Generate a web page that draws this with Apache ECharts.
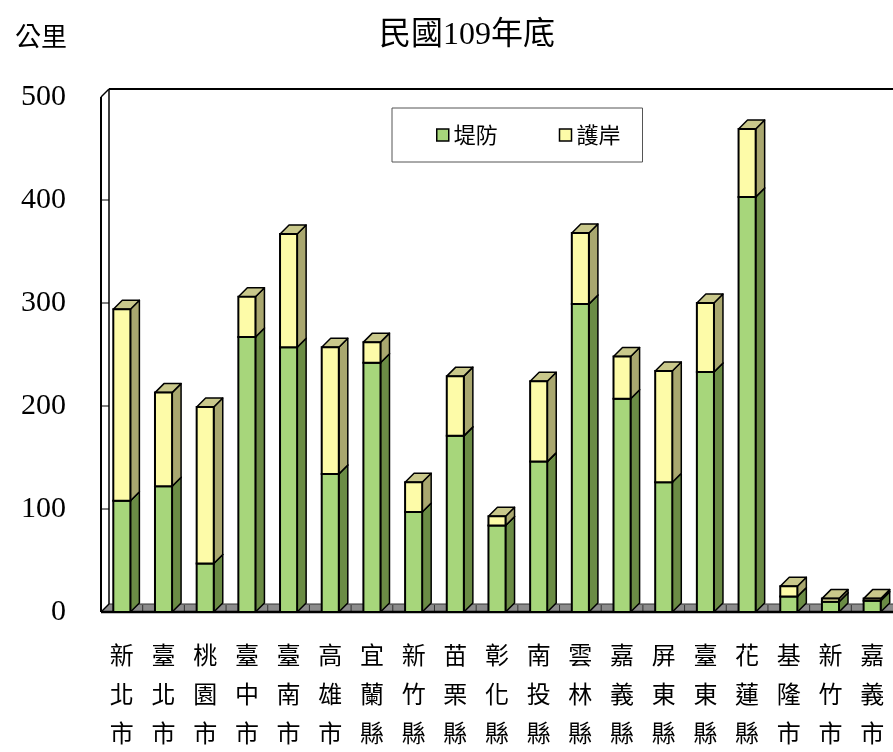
<!DOCTYPE html>
<html>
<head>
<meta charset="utf-8">
<script src="https://cdn.jsdelivr.net/npm/echarts@6/dist/echarts.min.js"></script>
<style>html,body{margin:0;padding:0;background:#fff;overflow:hidden}#c{width:893px;height:752px}</style>
</head>
<body>
<div id="c"></div>
<script>
// ---- data ----
const categories = ['新北市','臺北市','桃園市','臺中市','臺南市','高雄市','宜蘭縣','新竹縣','苗栗縣','彰化縣','南投縣','雲林縣','嘉義縣','屏東縣','臺東縣','花蓮縣','基隆市','新竹市','嘉義市'];
const dikes   = [108, 122, 47, 267, 257, 134, 242, 97, 171, 84, 146, 299, 207, 126, 233, 403, 15, 10, 11]; // 堤防
const revetments = [186, 91, 152, 39, 110, 123, 20, 29, 58, 9, 78, 69, 41, 108, 67, 66, 10, 3, 2]; // 護岸
const yTicks = [0, 100, 200, 300, 400, 500];
const seriesNames = ['堤防', '護岸'];

// ---- style ----
const DEPTH = 9;
const CJK = '"Noto Sans CJK TC", "Noto Sans CJK SC", sans-serif';
const SERIF = '"Liberation Serif", "Noto Sans CJK TC", serif';
const styles = {
  '堤防': {front: '#a7d67b', side: '#6b8c45', top: '#b9d98f'},
  '護岸': {front: '#fdfba8', side: '#a9a76f', top: '#c9c88b'}
};

function segData(base, vals) {
  return vals.map((v, i) => [i, base ? base[i] : 0, (base ? base[i] : 0) + v]);
}

function makeRender(st) {
  return function (params, api) {
    const cat = api.value(0), b = api.value(1), t = api.value(2);
    const p0 = api.coord([cat, b]);
    const p1 = api.coord([cat, t]);
    const bw = api.size([1, 0])[0] * 0.41;
    const x0 = p0[0] - bw / 2, x1 = p0[0] + bw / 2;
    const yb = p0[1], yt = p1[1];
    const d = DEPTH;
    return {
      type: 'group',
      children: [
        {type: 'polygon', shape: {points: [[x1, yb], [x1 + d, yb - d], [x1 + d, yt - d], [x1, yt]]},
         style: {fill: st.side, stroke: '#000', lineWidth: 1.5, lineJoin: 'round'}},
        {type: 'polygon', shape: {points: [[x0, yt], [x1, yt], [x1 + d, yt - d], [x0 + d, yt - d]]},
         style: {fill: st.top, stroke: '#000', lineWidth: 1.5, lineJoin: 'round'}},
        {type: 'rect', shape: {x: x0, y: yt, width: bw, height: yb - yt},
         style: {fill: st.front, stroke: '#000', lineWidth: 2}}
      ]
    };
  };
}

function renderFrame(params, api) {
  const cs = params.coordSys;
  const L = cs.x, R = cs.x + cs.width, T = cs.y, B = cs.y + cs.height;
  const d = DEPTH - 1;
  const band = cs.width / categories.length;
  const ch = [];
  // floor
  ch.push({type: 'polygon', shape: {points: [[L, B], [R, B], [R + d, B - d], [L + d, B - d]]},
           style: {fill: '#8c8c8c', stroke: '#333', lineWidth: 1}});
  for (let k = 1; k < categories.length; k++) {
    const x = L + k * band;
    ch.push({type: 'line', shape: {x1: x, y1: B - d + 1, x2: x, y2: B - 1}, style: {stroke: '#333', lineWidth: 1}});
  }
  ch.push({type: 'line', shape: {x1: L, y1: B, x2: R + 10, y2: B}, style: {stroke: '#000', lineWidth: 2.5}});
  // left wall
  ch.push({type: 'line', shape: {x1: L, y1: T, x2: L, y2: B}, style: {stroke: '#000', lineWidth: 2}});
  ch.push({type: 'line', shape: {x1: L + d, y1: T - d, x2: L + d, y2: B - d}, style: {stroke: '#000', lineWidth: 1.5}});
  ch.push({type: 'line', shape: {x1: L, y1: T, x2: L + d, y2: T - d}, style: {stroke: '#000', lineWidth: 1.5}});
  ch.push({type: 'line', shape: {x1: L, y1: B, x2: L + d, y2: B - d}, style: {stroke: '#000', lineWidth: 1.5}});
  // back wall top
  ch.push({type: 'line', shape: {x1: L + d, y1: T - d, x2: R + 20, y2: T - d}, style: {stroke: '#000', lineWidth: 2}});
  // wall ticks
  yTicks.slice(1, -1).forEach(v => {
    const y = api.coord([0, v])[1];
    ch.push({type: 'line', shape: {x1: L, y1: y, x2: L + d, y2: y}, style: {stroke: '#000', lineWidth: 1}});
  });
  return {type: 'group', children: ch};
}

const chart = echarts.init(document.getElementById('c'), null, {renderer: 'canvas', width: 893, height: 752});
chart.setOption({
  backgroundColor: '#fff',
  animation: false,
  title: [
    {text: '民國109年底', left: 374, top: 15, textStyle: {fontFamily: SERIF, fontSize: 32, fontWeight: 'normal', color: '#000'}},
    {text: '公里', left: 10, top: 18, textStyle: {fontFamily: CJK, fontSize: 26, fontWeight: 'normal', color: '#000'}}
  ],
  legend: {
    data: seriesNames,
    left: 392, top: 108,
    orient: 'horizontal',
    padding: [16, 22, 16, 44],
    itemGap: 61,
    itemWidth: 12, itemHeight: 12,
    icon: 'rect',
    borderColor: '#555', borderWidth: 1,
    backgroundColor: '#fff',
    itemStyle: {borderColor: '#000', borderWidth: 1.5},
    textStyle: {fontFamily: CJK, fontSize: 22, color: '#000'}
  },
  grid: {left: 101, width: 796, top: 97, height: 522, containLabel: false},
  xAxis: {
    type: 'category',
    data: categories,
    axisLine: {show: false},
    axisTick: {show: false},
    axisLabel: {
      interval: 0, margin: 23,
      formatter: v => v.split('').join('\n'),
      fontFamily: CJK, fontSize: 24, lineHeight: 39, color: '#000'
    }
  },
  yAxis: {
    type: 'value', min: 0, max: 500, interval: 100,
    axisLine: {show: false}, axisTick: {show: false}, splitLine: {show: false},
    axisLabel: {margin: 35, fontFamily: SERIF, fontSize: 30, color: '#000'}
  },
  series: [
    {type: 'custom', name: 'frame', silent: true, z: 1, renderItem: renderFrame, data: [[0, 0, 0]], encode: {x: 0, y: 1}},
    {type: 'custom', name: seriesNames[0], z: 2, renderItem: makeRender(styles['堤防']),
     itemStyle: {color: styles['堤防'].front}, data: segData(null, dikes), encode: {x: 0, y: [1, 2]}},
    {type: 'custom', name: seriesNames[1], z: 3, renderItem: makeRender(styles['護岸']),
     itemStyle: {color: styles['護岸'].front}, data: segData(dikes, revetments), encode: {x: 0, y: [1, 2]}}
  ]
});
</script>
</body>
</html>
